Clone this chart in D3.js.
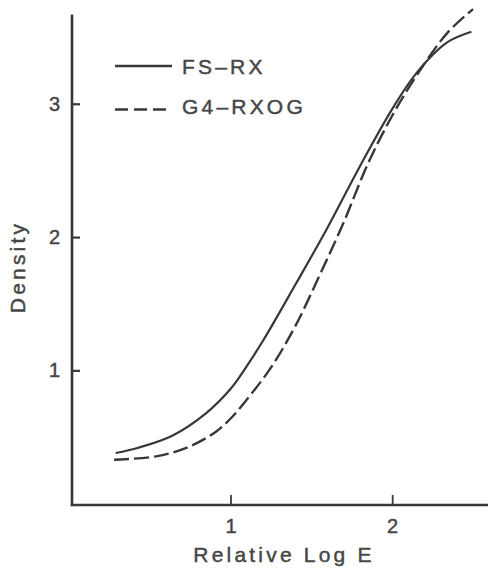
<!DOCTYPE html>
<html>
<head>
<meta charset="utf-8">
<script src="https://cdn.jsdelivr.net/npm/d3@7"></script>
<style>
  html, body { margin: 0; padding: 0; background: #fff; }
  svg { display: block; }
  text { font-family: "Liberation Sans", Arial, Helvetica, sans-serif; fill: #464646; stroke: #464646; stroke-width: 0.45px; }
</style>
</head>
<body>
<script>
// ---- Data ----
const seriesNames = ["FS-RX", "G4-RXOG"];
const fsX = [0.29, 0.43, 0.64, 0.85, 1.0, 1.1, 1.2, 1.4, 1.6, 1.8, 2.0, 2.15, 2.34, 2.49];
const fsY = [0.38, 0.42, 0.51, 0.68, 0.86, 1.03, 1.22, 1.64, 2.07, 2.53, 2.96, 3.23, 3.46, 3.54];
const g4X = [0.28, 0.54, 0.74, 0.91, 1.01, 1.1, 1.25, 1.4, 1.55, 1.7, 1.85, 2.0, 2.15, 2.34, 2.5];
const g4Y = [0.33, 0.355, 0.425, 0.54, 0.65, 0.78, 1.02, 1.33, 1.71, 2.11, 2.55, 2.91, 3.21, 3.53, 3.71];
const xTicks = [1, 2];
const yTicks = [1, 2, 3];
const xLabel = "Relative Log E";
const yLabel = "Density";

// ---- Layout ----
const W = 488, H = 570;
const svg = d3.select("body").append("svg").attr("width", W).attr("height", H);

const x = d3.scaleLinear().domain([0.02, 2.6]).range([72, 72 + 2.58 * 161.7]);
const y = d3.scaleLinear().domain([-0.01, 3.67]).range([505, 505 - 3.68 * 133.3]);

const ink = "#383838";

// axes
const xAxis = d3.axisBottom(x).tickValues(xTicks).tickSize(-10).tickPadding(14).tickFormat(d3.format("d"));
const yAxis = d3.axisLeft(y).tickValues(yTicks).tickSize(-8).tickPadding(12).tickFormat(d3.format("d"));

const gx = svg.append("g").attr("transform", `translate(0,${y(-0.01)})`).call(xAxis);
const gy = svg.append("g").attr("transform", `translate(${x(0.02)},0)`).call(yAxis);

[gx, gy].forEach(g => {
  g.select(".domain").remove();
  g.selectAll(".tick line").attr("stroke", ink).attr("stroke-width", 1.8);
  g.selectAll(".tick text").attr("font-size", 20).attr("fill", "#464646")
    .attr("font-family", "'Liberation Sans', Arial, sans-serif");
});
gy.selectAll(".tick line").attr("stroke-width", 2.2);

// axis lines
svg.append("line").attr("x1", x(0.02)).attr("x2", x(0.02)).attr("y1", y(3.67)).attr("y2", y(-0.01) + 1.2)
  .attr("stroke", ink).attr("stroke-width", 2.6);
svg.append("line").attr("x1", x(0.02) - 1.2).attr("x2", x(2.6)).attr("y1", y(-0.01)).attr("y2", y(-0.01))
  .attr("stroke", ink).attr("stroke-width", 2.6);

// axis titles
svg.append("text").attr("x", 284).attr("y", 562).attr("text-anchor", "middle")
  .attr("font-size", 21).attr("letter-spacing", "3.2px").text(xLabel);
svg.append("text").attr("transform", "translate(25,267) rotate(-90)").attr("text-anchor", "middle")
  .attr("font-size", 21).attr("letter-spacing", "3.2px").text(yLabel);

// curves
const line = d3.line().x(d => x(d[0])).y(d => y(d[1])).curve(d3.curveCatmullRom.alpha(0.5));
const fsData = fsX.map((v, i) => [v, fsY[i]]);
const g4Data = g4X.map((v, i) => [v, g4Y[i]]);

svg.append("path").datum(fsData).attr("d", line).attr("fill", "none")
  .attr("stroke", ink).attr("stroke-width", 2.2);
svg.append("path").datum(g4Data).attr("d", line).attr("fill", "none")
  .attr("stroke", ink).attr("stroke-width", 2.4).attr("stroke-dasharray", "15,5");

// legend
const legend = [
  { name: seriesNames[0], ly: 66, ty: 73.5, dash: null },
  { name: seriesNames[1], ly: 109.5, ty: 114, dash: "13,6" }
];
legend.forEach(l => {
  svg.append("line").attr("x1", 115).attr("x2", 172).attr("y1", l.ly).attr("y2", l.ly)
    .attr("stroke", ink).attr("stroke-width", 2.4).attr("stroke-dasharray", l.dash);
  svg.append("text").attr("x", 182).attr("y", l.ty).attr("font-size", 21)
    .attr("letter-spacing", "3.2px").text(l.name.replace("-", "\u2013"));
});
</script>
</body>
</html>
